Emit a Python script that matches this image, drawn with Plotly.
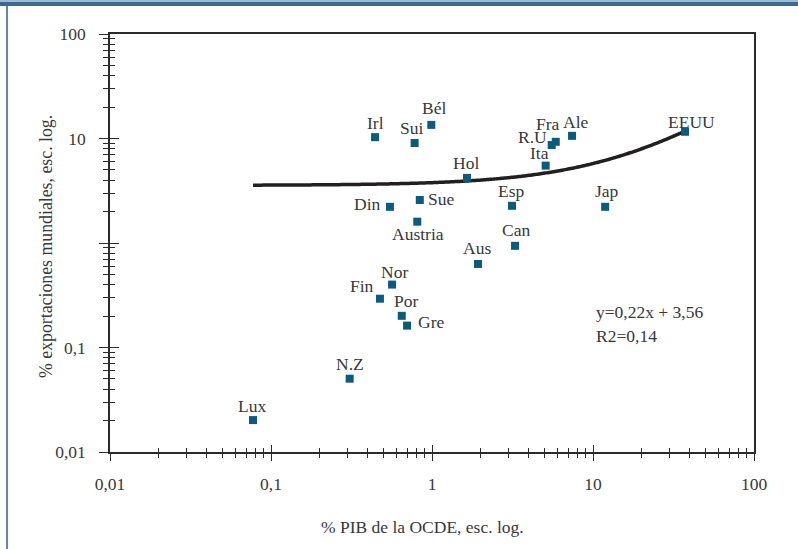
import numpy as np
import plotly.graph_objects as go

# ---- data ----
countries = ["Irl", "Bél", "Sui", "Fra", "R.U", "Ale", "EEUU", "Ita", "Hol", "Esp",
             "Jap", "Sue", "Din", "Austria", "Can", "Aus", "Nor", "Fin", "Por", "Gre",
             "N.Z", "Lux"]
pib_ocde = [0.443, 0.99, 0.78, 5.87, 5.54, 7.41, 37.3, 5.08, 1.65, 3.14,
            11.9, 0.84, 0.548, 0.81, 3.28, 1.93, 0.565, 0.475, 0.649, 0.70,
            0.308, 0.0773]
export_mund = [10.3, 13.5, 9.05, 9.3, 8.66, 10.6, 11.6, 5.5, 4.2, 2.27,
               2.22, 2.58, 2.22, 1.6, 0.94, 0.63, 0.40, 0.293, 0.201, 0.162,
               0.0503, 0.0202]

# regression shown on the chart: y = 0,22x + 3,56 ; R2 = 0,14
slope = 0.22
intercept = 3.56
r2 = 0.14

tick_vals = [0.01, 0.1, 1, 10, 100]
x_tick_text = ["0,01", "0,1", "1", "10", "100"]
y_tick_text = ["0,01", "0,1", "", "10", "100"]
minor_vals = [m * 10.0 ** e for e in range(-2, 2) for m in range(2, 10)]

# ---- label placement (pixel offsets: dx, dy-up, anchor) ----
label_pos = {
    "Irl": (0, 14, "center"), "Sui": (-3, 15, "center"), "Bél": (3, 17, "center"),
    "Hol": (-1, 15, "center"), "Din": (-7, 3, "right"), "Sue": (6, 1, "left"),
    "Austria": (1, -12, "center"), "Esp": (-1, 15, "center"), "Can": (1, 16, "center"),
    "Aus": (-1, 16, "center"), "Jap": (2, 16, "center"), "Ita": (-6, 13, "center"),
    "R.U": (-19, 8, "center"), "Fra": (-8, 18, "center"), "Ale": (4, 14, "center"),
    "EEUU": (6, 10, "center"), "Nor": (2, 13, "center"), "Fin": (-4, 13, "right"),
    "Por": (4, 15, "center"), "Gre": (9, 4, "left"), "N.Z": (0, 15, "center"),
    "Lux": (-1, 14, "center"),
}

FONT = "'Liberation Serif', 'Times New Roman', 'DejaVu Serif', serif"
FS = 17.5
TXT = "#383838"
AX = "#2b2b2b"
MARK = "#0b5b7d"

# trend curve from the stated equation
xt = np.logspace(np.log10(min(pib_ocde)), np.log10(max(pib_ocde)), 300)
yt = slope * xt + intercept

fig = go.Figure()
fig.add_trace(go.Scatter(x=xt, y=yt, mode="lines", xaxis="x", yaxis="y",
                         line=dict(color="#231f20", width=3.5, simplify=False),
                         hoverinfo="skip", showlegend=False))
fig.add_trace(go.Scatter(x=pib_ocde, y=export_mund, mode="markers", xaxis="x2", yaxis="y2",
                         marker=dict(symbol="square", size=8, color=MARK),
                         text=countries, showlegend=False))

annotations = []
for c, xv, yv in zip(countries, pib_ocde, export_mund):
    dx, dy, anc = label_pos[c]
    annotations.append(dict(
        x=np.log10(xv), y=np.log10(yv), xref="x", yref="y", text=c, showarrow=False,
        xanchor=anc, yanchor="middle", xshift=dx, yshift=dy,
        font=dict(family=FONT, size=FS, color=TXT)))

annotations.append(dict(x=0.7516, y=0.3356, xref="paper", yref="paper",
                        text=f"y={slope:.2f}x + {intercept:.2f}".replace(".", ","),
                        showarrow=False, xanchor="left", yanchor="middle",
                        font=dict(family=FONT, size=FS, color=TXT)))
annotations.append(dict(x=0.7516, y=0.2782, xref="paper", yref="paper",
                        text=f"R2={r2:.2f}".replace(".", ","),
                        showarrow=False, xanchor="left", yanchor="middle",
                        font=dict(family=FONT, size=FS, color=TXT)))
# axis titles
annotations.append(dict(x=(422.5 - 110) / 644, y=(452 - 526.7) / 418, xref="paper", yref="paper",
                        text="% PIB de la OCDE, esc. log.", showarrow=False,
                        xanchor="center", yanchor="middle",
                        font=dict(family=FONT, size=FS, color=TXT)))
annotations.append(dict(x=(46 - 110) / 644, y=(452 - 247) / 418, xref="paper", yref="paper",
                        text="% exportaciones mundiales, esc. log.", showarrow=False,
                        textangle=-90, xanchor="center", yanchor="middle",
                        font=dict(family=FONT, size=17.8, color=TXT)))

common_x = dict(type="log", range=[-2, 2], tickmode="array", tickvals=tick_vals,
                showgrid=False, zeroline=False, tickcolor=AX, tickwidth=1.3)
common_y = dict(type="log", range=[-2, 2], tickmode="array", tickvals=tick_vals,
                showgrid=False, zeroline=False, tickcolor=AX, tickwidth=1.3)

fig.update_layout(
    width=798, height=549, autosize=False,
    margin=dict(l=110, r=44, t=34, b=97),
    paper_bgcolor="white", plot_bgcolor="white",
    font=dict(family=FONT, size=FS, color=TXT),
    xaxis=dict(**common_x, ticktext=x_tick_text, ticks="outside", ticklen=7,
               showline=True, linecolor=AX, linewidth=1.5, mirror=True,
               tickfont=dict(family=FONT, size=FS, color=TXT), ticklabelstandoff=8,
               minor=dict(tickmode="array", tickvals=minor_vals, ticks="outside",
                          ticklen=4, tickcolor=AX, tickwidth=1.2, showgrid=False)),
    yaxis=dict(**common_y, ticktext=y_tick_text, ticks="outside", ticklen=9,
               showline=True, linecolor=AX, linewidth=1.5, mirror=True,
               tickfont=dict(family=FONT, size=FS, color=TXT), ticklabelstandoff=10,
               minor=dict(tickmode="array", tickvals=minor_vals, ticks="outside",
                          ticklen=5, tickcolor=AX, tickwidth=1.2, showgrid=False)),
    xaxis2=dict(**common_x, overlaying="x", matches="x", anchor="y2", side="bottom",
                ticks="inside", ticklen=7, showticklabels=False, showline=False,
                minor=dict(tickmode="array", tickvals=minor_vals, ticks="inside",
                           ticklen=4, tickcolor=AX, tickwidth=1.2, showgrid=False)),
    yaxis2=dict(**common_y, overlaying="y", matches="y", anchor="x2", side="left",
                ticks="inside", ticklen=9, showticklabels=False, showline=False,
                minor=dict(tickmode="array", tickvals=minor_vals, ticks="inside",
                           ticklen=5, tickcolor=AX, tickwidth=1.2, showgrid=False)),
    annotations=annotations,
    shapes=[
        # outer page frame: top band and left rule
        dict(type="rect", xref="paper", yref="paper", x0=-110 / 644, x1=688 / 644,
             y0=1 + 28 / 418, y1=1 + 34 / 418, fillcolor="#3d6b8f", line=dict(width=0), layer="above"),
        dict(type="rect", xref="paper", yref="paper", x0=-110 / 644, x1=688 / 644,
             y0=1 + 32 / 418, y1=1 + 34 / 418, fillcolor="#a3bacf", line=dict(width=0), layer="above"),
        dict(type="rect", xref="paper", yref="paper", x0=-104 / 644, x1=-102 / 644,
             y0=-97 / 418, y1=1 + 28 / 418, fillcolor="#5f8ab0", line=dict(width=0), layer="above"),
    ],
)

fig.write_html("out.html", config={"displayModeBar": False},
               post_script="document.body.style.margin='0';document.body.style.overflow='hidden';")
